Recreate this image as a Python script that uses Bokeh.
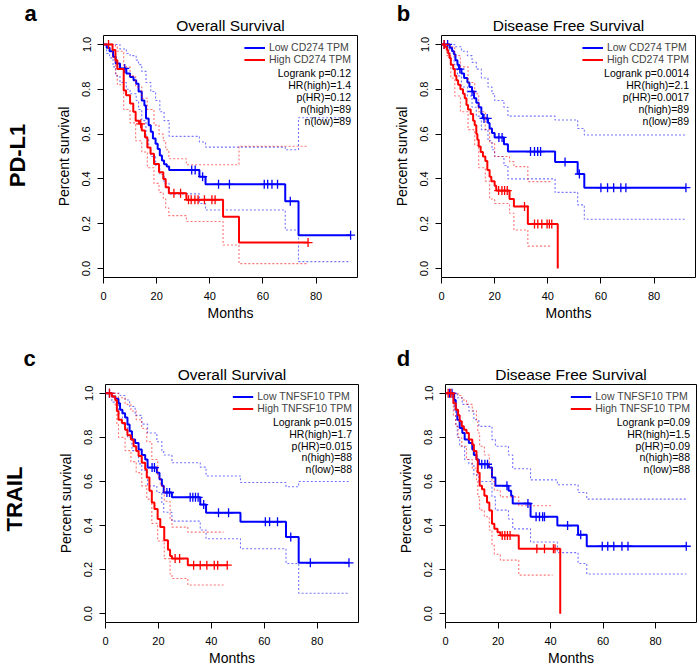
import numpy as np
from bokeh.plotting import figure
from bokeh.models import FixedTicker, PrintfTickFormatter, Label, Legend, LegendItem, Range1d
from bokeh.layouts import column, row
from bokeh.embed import file_html
from bokeh.resources import INLINE

FONT = "Liberation Sans"
BLUE = "#0000FF"
RED = "#FF0000"

X_TICKS = [0, 20, 40, 60, 80]
Y_TICKS = [0.0, 0.2, 0.4, 0.6, 0.8, 1.0]
X_MAX = 95.6
Y_MIN, Y_MAX = -0.04, 1.04

# ---------------- Panel a : PD-L1 overall survival ----------------
A_LOW_T = [0, 1.2, 2.3, 3.6, 4.6, 6.2, 8.6, 10.0, 11.3, 12.3, 13.2, 14.4, 15.4, 16.0, 17.0, 17.8, 18.6, 19.6, 20.4, 21.2, 22.0, 22.8, 23.8, 24.7, 36.1, 38.4, 68.4, 73.4, 93.0]
A_LOW_S = [1.0, 0.985, 0.97, 0.945, 0.915, 0.893, 0.87, 0.855, 0.84, 0.825, 0.79, 0.75, 0.728, 0.67, 0.64, 0.61, 0.58, 0.557, 0.534, 0.505, 0.482, 0.465, 0.455, 0.44, 0.41, 0.376, 0.30, 0.149, 0.149]
A_LOW_C = [8.0, 33.2, 34.5, 37.3, 43.3, 47.4, 60.5, 61.8, 63.4, 65.5, 70.3, 93.0]
A_LOW_UT = [0, 6.2, 8.6, 10.0, 12.3, 13.2, 14.4, 16.0, 17.8, 19.6, 21.2, 22.8, 24.7, 36.1, 38.4, 68.4, 73.4, 93.0]
A_LOW_UV = [1.0, 0.98, 0.96, 0.95, 0.93, 0.91, 0.88, 0.83, 0.79, 0.75, 0.70, 0.66, 0.59, 0.565, 0.542, 0.53, 0.673, 0.673]
A_LOW_LT = [0, 1.2, 2.3, 3.6, 4.6, 6.2, 8.6, 10.0, 12.3, 13.2, 14.4, 16.0, 17.0, 17.8, 19.6, 21.2, 22.8, 24.7, 36.1, 38.4, 68.4, 73.4, 93.0]
A_LOW_LV = [1.0, 0.96, 0.94, 0.9, 0.86, 0.83, 0.80, 0.78, 0.75, 0.71, 0.66, 0.58, 0.54, 0.5, 0.46, 0.42, 0.38, 0.333, 0.29, 0.261, 0.172, 0.031, 0.031]

A_HIGH_T = [0, 3.4, 4.5, 5.2, 7.6, 8.5, 10.0, 11.2, 12.1, 13.4, 14.4, 15.6, 16.5, 17.7, 19.0, 20.9, 22.5, 23.4, 24.6, 31.2, 45.0, 51.0, 77.0]
A_HIGH_S = [1.0, 0.975, 0.93, 0.89, 0.795, 0.773, 0.736, 0.70, 0.66, 0.646, 0.616, 0.586, 0.54, 0.512, 0.467, 0.43, 0.40, 0.363, 0.336, 0.307, 0.231, 0.116, 0.116]
A_HIGH_C = [1.9, 14.0, 26.5, 29.0, 32.0, 33.0, 34.4, 35.6, 38.0, 40.8, 42.0, 77.0]
A_HIGH_UT = [0, 4.5, 5.2, 7.6, 10.0, 12.1, 14.4, 16.5, 19.0, 20.9, 22.5, 23.4, 24.6, 31.2, 51.0, 77.0]
A_HIGH_UV = [1.0, 0.99, 0.97, 0.9, 0.86, 0.81, 0.76, 0.71, 0.64, 0.6, 0.57, 0.53, 0.49, 0.463, 0.546, 0.546]
A_HIGH_LT = [0, 3.4, 4.5, 5.2, 7.6, 10.0, 12.1, 14.4, 16.5, 19.0, 20.9, 22.5, 23.4, 24.6, 31.2, 45.0, 51.0, 77.0]
A_HIGH_LV = [1.0, 0.94, 0.87, 0.82, 0.71, 0.65, 0.57, 0.52, 0.45, 0.38, 0.34, 0.31, 0.27, 0.236, 0.21, 0.105, 0.022, 0.022]

# ---------------- Panel b : PD-L1 disease free survival ----------------
B_LOW_T = [0, 3.1, 4.0, 4.75, 5.25, 6.0, 6.6, 7.5, 8.5, 9.75, 10.5, 11.5, 12.25, 13.1, 14.0, 15.0, 15.6, 17.5, 18.1, 19.0, 20.0, 23.5, 25.0, 42.75, 51.25, 53.75, 92.0]
B_LOW_S = [1.0, 0.985, 0.97, 0.955, 0.93, 0.91, 0.89, 0.87, 0.85, 0.83, 0.81, 0.79, 0.76, 0.74, 0.72, 0.69, 0.67, 0.65, 0.625, 0.605, 0.585, 0.555, 0.522, 0.475, 0.422, 0.361, 0.361]
B_LOW_C = [1.0, 2.3, 6.9, 11.5, 16.0, 17.2, 21.6, 22.8, 33.5, 35.0, 36.2, 37.3, 46.5, 51.9, 60.0, 62.5, 64.8, 67.5, 69.4, 92.0]
B_LOW_UT = [0, 5.0, 7.5, 9.75, 11.5, 13.1, 15.0, 17.5, 19.0, 20.0, 23.5, 25.0, 42.75, 51.25, 53.75, 92.0]
B_LOW_UV = [1.0, 0.99, 0.97, 0.95, 0.92, 0.89, 0.85, 0.81, 0.78, 0.75, 0.72, 0.68, 0.663, 0.625, 0.596, 0.596]
B_LOW_LT = [0, 3.1, 4.75, 6.0, 7.5, 9.75, 11.5, 13.1, 15.0, 17.5, 19.0, 20.0, 23.5, 25.0, 42.75, 51.25, 53.75, 92.0]
B_LOW_LV = [1.0, 0.96, 0.91, 0.86, 0.81, 0.77, 0.72, 0.68, 0.62, 0.57, 0.53, 0.5, 0.46, 0.40, 0.34, 0.284, 0.22, 0.22]

B_HIGH_T = [0, 1.25, 2.0, 2.5, 3.0, 3.5, 4.4, 5.0, 5.6, 6.25, 7.1, 8.1, 8.75, 9.4, 10.0, 11.0, 11.9, 12.5, 13.1, 13.5, 14.0, 14.75, 15.6, 16.5, 17.25, 18.1, 18.75, 20.0, 20.6, 25.6, 27.25, 32.5, 43.75]
B_HIGH_S = [1.0, 0.99, 0.975, 0.96, 0.94, 0.91, 0.89, 0.86, 0.84, 0.82, 0.80, 0.78, 0.76, 0.73, 0.71, 0.69, 0.66, 0.64, 0.60, 0.575, 0.545, 0.52, 0.50, 0.48, 0.44, 0.41, 0.39, 0.37, 0.348, 0.31, 0.277, 0.199, 0.0]
B_HIGH_C = [1.0, 21.5, 22.75, 23.75, 24.75, 31.25, 35.0, 36.25, 37.75, 39.75, 40.6, 41.5]
B_HIGH_UT = [0, 3.0, 5.0, 7.1, 10.0, 12.5, 14.0, 16.5, 18.1, 20.0, 25.6, 27.25, 32.5, 41.5]
B_HIGH_UV = [1.0, 0.99, 0.95, 0.9, 0.83, 0.78, 0.7, 0.62, 0.56, 0.5, 0.477, 0.455, 0.388, 0.388]
B_HIGH_LT = [0, 2.0, 3.5, 5.0, 7.1, 10.0, 12.5, 14.0, 16.5, 18.1, 20.0, 25.6, 27.25, 32.5, 41.5]
B_HIGH_LV = [1.0, 0.95, 0.85, 0.77, 0.7, 0.62, 0.55, 0.45, 0.39, 0.31, 0.29, 0.247, 0.172, 0.10, 0.10]

# ---------------- Panel c : TRAIL overall survival ----------------
C_LOW_T = [0, 2.4, 3.7, 4.9, 5.5, 6.4, 7.4, 8.3, 9.1, 10.0, 11.2, 12.5, 13.7, 15.0, 15.9, 19.4, 20.4, 21.3, 22.0, 25.1, 35.8, 38.0, 51.0, 68.2, 73.0, 92.0]
C_LOW_S = [1.0, 0.985, 0.975, 0.955, 0.925, 0.91, 0.89, 0.858, 0.828, 0.79, 0.775, 0.745, 0.72, 0.70, 0.663, 0.64, 0.61, 0.58, 0.55, 0.528, 0.495, 0.458, 0.417, 0.348, 0.231, 0.231]
C_LOW_C = [1.5, 17.6, 18.5, 23.2, 24.2, 32.0, 33.0, 34.0, 35.0, 37.1, 42.7, 46.5, 60.4, 62.0, 65.0, 70.0, 77.4, 92.0]
C_LOW_UT = [0, 5.5, 7.4, 9.1, 11.2, 13.7, 15.9, 19.4, 21.3, 22.0, 25.1, 35.8, 38.0, 51.0, 68.2, 73.0, 92.0]
C_LOW_UV = [1.0, 0.99, 0.97, 0.94, 0.9, 0.86, 0.82, 0.78, 0.74, 0.72, 0.685, 0.665, 0.625, 0.595, 0.576, 0.6, 0.6]
C_LOW_LT = [0, 2.4, 4.9, 6.4, 8.3, 10.0, 12.5, 13.7, 15.9, 19.4, 21.3, 22.0, 25.1, 35.8, 38.0, 51.0, 68.2, 73.0, 92.0]
C_LOW_LV = [1.0, 0.96, 0.91, 0.86, 0.8, 0.74, 0.68, 0.65, 0.58, 0.55, 0.5, 0.46, 0.42, 0.38, 0.34, 0.295, 0.228, 0.093, 0.093]

C_HIGH_T = [0, 2.4, 3.7, 4.3, 4.9, 6.2, 7.4, 8.3, 9.6, 10.6, 11.6, 12.5, 13.7, 15.0, 15.6, 16.6, 17.5, 18.5, 19.7, 20.7, 22.2, 23.6, 24.4, 25.1, 31.1, 46.0]
C_HIGH_S = [1.0, 0.985, 0.97, 0.92, 0.88, 0.865, 0.835, 0.81, 0.79, 0.76, 0.738, 0.715, 0.685, 0.655, 0.618, 0.558, 0.505, 0.475, 0.43, 0.393, 0.333, 0.29, 0.262, 0.25, 0.22, 0.22]
C_HIGH_C = [1.5, 26.3, 28.0, 33.3, 35.8, 38.3, 41.1, 42.4, 46.0]
C_HIGH_UT = [0, 4.9, 7.4, 9.6, 11.6, 13.7, 15.6, 17.5, 19.7, 20.7, 22.2, 24.4, 25.1, 31.1, 44.6]
C_HIGH_UV = [1.0, 0.98, 0.95, 0.92, 0.88, 0.84, 0.78, 0.7, 0.62, 0.58, 0.51, 0.43, 0.393, 0.37, 0.37]
C_HIGH_LT = [0, 3.7, 4.3, 4.9, 7.4, 9.6, 11.6, 13.7, 15.6, 17.5, 19.7, 22.2, 24.4, 25.1, 31.1, 44.6]
C_HIGH_LV = [1.0, 0.94, 0.86, 0.8, 0.74, 0.69, 0.64, 0.58, 0.52, 0.41, 0.33, 0.25, 0.18, 0.16, 0.13, 0.13]

# ---------------- Panel d : TRAIL disease free survival ----------------
D_LOW_T = [0, 3.3, 3.9, 4.5, 5.4, 6.4, 7.3, 8.9, 10.2, 10.8, 11.8, 12.7, 16.5, 17.7, 19.0, 24.0, 25.0, 25.6, 32.4, 42.6, 50.5, 53.8, 91.7]
D_LOW_S = [1.0, 0.97, 0.925, 0.88, 0.843, 0.82, 0.79, 0.775, 0.745, 0.72, 0.70, 0.678, 0.663, 0.618, 0.58, 0.558, 0.535, 0.50, 0.44, 0.40, 0.358, 0.306, 0.306]
D_LOW_C = [1.5, 2.5, 13.8, 15.0, 16.0, 23.4, 31.4, 34.5, 35.8, 37.0, 37.7, 46.5, 51.5, 59.7, 61.8, 64.1, 67.2, 69.5, 91.7]
D_LOW_UT = [0, 4.5, 6.4, 8.9, 10.8, 12.7, 17.7, 19.0, 24.0, 25.6, 32.4, 42.6, 50.5, 53.8, 91.7]
D_LOW_UV = [1.0, 0.98, 0.95, 0.92, 0.88, 0.85, 0.79, 0.76, 0.72, 0.658, 0.607, 0.585, 0.55, 0.52, 0.52]
D_LOW_LT = [0, 3.3, 3.9, 4.5, 5.4, 7.3, 8.9, 10.8, 12.7, 17.7, 19.0, 24.0, 25.6, 32.4, 42.6, 50.5, 53.8, 91.7]
D_LOW_LV = [1.0, 0.92, 0.86, 0.8, 0.76, 0.7, 0.68, 0.63, 0.6, 0.53, 0.47, 0.43, 0.385, 0.325, 0.277, 0.228, 0.18, 0.18]

D_HIGH_T = [0, 3.0, 3.9, 4.8, 5.4, 6.2, 7.0, 8.0, 8.9, 10.2, 10.8, 11.8, 12.3, 13.0, 13.9, 14.8, 15.8, 16.7, 17.7, 18.6, 19.8, 20.9, 27.9, 43.7]
D_HIGH_S = [1.0, 0.955, 0.925, 0.9, 0.873, 0.85, 0.835, 0.82, 0.79, 0.768, 0.738, 0.70, 0.64, 0.58, 0.565, 0.535, 0.505, 0.468, 0.408, 0.385, 0.37, 0.355, 0.295, 0.0]
D_HIGH_C = [1.0, 2.0, 21.6, 22.6, 23.6, 24.6, 34.8, 37.7, 41.1, 41.7]
D_HIGH_UT = [0, 4.8, 6.2, 8.0, 10.2, 11.8, 12.3, 13.0, 14.8, 16.7, 17.7, 18.6, 20.9, 27.9, 40.8]
D_HIGH_UV = [1.0, 0.99, 0.97, 0.95, 0.92, 0.87, 0.82, 0.76, 0.72, 0.66, 0.6, 0.56, 0.53, 0.49, 0.49]
D_HIGH_LT = [0, 3.0, 3.9, 4.8, 6.2, 8.0, 10.2, 11.8, 12.3, 13.0, 14.8, 16.7, 17.7, 18.6, 20.9, 27.9, 40.8]
D_HIGH_LV = [1.0, 0.9, 0.85, 0.8, 0.76, 0.7, 0.66, 0.6, 0.53, 0.47, 0.44, 0.38, 0.31, 0.27, 0.243, 0.175, 0.175]

STATS_A = ["Logrank p=0.12", "HR(high)=1.4", "p(HR)=0.12", "n(high)=89", "n(low)=89"]
STATS_B = ["Logrank p=0.0014", "HR(high)=2.1", "p(HR)=0.0017", "n(high)=89", "n(low)=89"]
STATS_C = ["Logrank p=0.015", "HR(high)=1.7", "p(HR)=0.015", "n(high)=88", "n(low)=88"]
STATS_D = ["Logrank p=0.09", "HR(high)=1.5", "p(HR)=0.09", "n(high)=88", "n(low)=88"]
LEG_PDL1 = ["Low CD274 TPM", "High CD274 TPM"]
LEG_TRAIL = ["Low TNFSF10 TPM", "High TNFSF10 TPM"]
TITLE_OS = "Overall Survival"
TITLE_DFS = "Disease Free Survival"
ROW_LABELS = ["PD-L1", "TRAIL"]
LETTERS = ["a", "b", "c", "d"]

PAGE_W = 698


def step_value(T, S, t):
    i = int(np.searchsorted(np.asarray(T), t, side="right")) - 1
    return S[i]


def text_fig(w, h, top=0, bottom=0):
    """A figure without axes; text coordinates are pixels from its top-left corner."""
    f = figure(width=w, height=h, output_backend="svg", toolbar_location=None,
               x_range=Range1d(0, w), y_range=Range1d(h - bottom, top),
               x_axis_type=None, y_axis_type=None,
               min_border_left=0, min_border_right=0, min_border_top=top, min_border_bottom=bottom,
               background_fill_color="white", border_fill_color="white")
    f.outline_line_color = None
    return f


def add_text(f, x, y, txt, size, bold=False, angle=0.0):
    f.add_layout(Label(x=x, y=y, text=txt, angle=angle, text_align="center", text_baseline="middle",
                       text_font=FONT, text_font_size=size,
                       text_font_style="bold" if bold else "normal", text_color="black"))


def draw_group(p, T, S, C, UT, UV, LT, LV, color):
    p.step(UT, UV, mode="after", line_color=color, line_alpha=0.55, line_width=1.1, line_dash="2 2")
    p.step(LT, LV, mode="after", line_color=color, line_alpha=0.55, line_width=1.1, line_dash="2 2")
    r = p.step(T, S, mode="after", line_color=color, line_width=2)
    cy = [step_value(T, S, t) for t in C]
    p.scatter(C, cy, marker="cross", size=9, line_color=color, line_width=1.3)
    return r


def make_panel(W, H, L, FW, T, FH, leg, stats, low, high):
    p = figure(width=W, height=H, output_backend="svg", toolbar_location=None,
               x_range=Range1d(0, X_MAX), y_range=Range1d(Y_MIN, Y_MAX),
               min_border_left=L, min_border_right=W - L - FW,
               min_border_top=T, min_border_bottom=H - T - FH,
               background_fill_color="white", border_fill_color="white")
    p.xgrid.visible = False
    p.ygrid.visible = False
    p.outline_line_color = "black"
    p.outline_line_width = 1

    def dx(px):
        return (px - L) / FW * X_MAX

    def dy(py):
        return Y_MAX - (py - T) / FH * (Y_MAX - Y_MIN)

    p.xaxis.ticker = FixedTicker(ticks=X_TICKS)
    p.yaxis.ticker = FixedTicker(ticks=Y_TICKS)
    p.yaxis.formatter = PrintfTickFormatter(format="%.1f")
    for ax in (p.xaxis[0], p.yaxis[0]):
        ax.axis_line_color = None
        ax.major_tick_line_color = "black"
        ax.major_tick_out = 6
        ax.major_tick_in = 0
        ax.minor_tick_line_color = None
        ax.major_label_text_font = FONT
        ax.major_label_text_font_size = "11px"
        ax.major_label_text_color = "black"
        ax.axis_label_text_font = FONT
        ax.axis_label_text_font_size = "14px"
        ax.axis_label_text_font_style = "normal"
        ax.axis_label_text_color = "black"
    p.xaxis.axis_label = "Months"
    p.yaxis.axis_label = "Percent survival"
    p.yaxis.major_label_orientation = "vertical"
    p.xaxis.major_label_standoff = 8
    p.yaxis.major_label_standoff = 7
    p.xaxis.axis_label_standoff = 2
    p.yaxis.axis_label_standoff = 8

    r_low = draw_group(p, *low, BLUE)
    r_high = draw_group(p, *high, RED)

    legend = Legend(items=[LegendItem(label=leg[0], renderers=[r_low]),
                           LegendItem(label=leg[1], renderers=[r_high])],
                    location="top_right", margin=6, padding=0, spacing=0,
                    glyph_width=21, glyph_height=11, label_height=11, label_standoff=4,
                    label_text_font=FONT, label_text_font_size="10.5px",
                    border_line_color=None, background_fill_alpha=0)
    p.add_layout(legend)

    for i, txt in enumerate(stats):
        p.add_layout(Label(x=dx(L + FW - 6.5), y=dy(T + 37.3 + 12.0 * i), text=txt,
                           text_align="right", text_baseline="middle",
                           text_font=FONT, text_font_size="10.5px", text_color="black"))
    return p


# ----- Row 1: header (34) + panels (296) -----
head1 = text_fig(PAGE_W, 34)
add_text(head1, 30, 13, LETTERS[0], "22px", bold=True)
add_text(head1, 38 + 65 + 127, 25, TITLE_OS, "15.5px")
add_text(head1, 403, 13, LETTERS[1], "22px", bold=True)
add_text(head1, 362 + 79 + 127, 25, TITLE_DFS, "15.5px")

strip1 = text_fig(38, 296, top=1, bottom=53)
add_text(strip1, 17, 121, ROW_LABELS[0], "22px", bold=True, angle=np.pi / 2)

pa = make_panel(324, 296, 65, 254, 1, 242, LEG_PDL1, STATS_A,
                (A_LOW_T, A_LOW_S, A_LOW_C, A_LOW_UT, A_LOW_UV, A_LOW_LT, A_LOW_LV),
                (A_HIGH_T, A_HIGH_S, A_HIGH_C, A_HIGH_UT, A_HIGH_UV, A_HIGH_LT, A_HIGH_LV))
pb = make_panel(336, 296, 79, 254, 1, 242, LEG_PDL1, STATS_B,
                (B_LOW_T, B_LOW_S, B_LOW_C, B_LOW_UT, B_LOW_UV, B_LOW_LT, B_LOW_LV),
                (B_HIGH_T, B_HIGH_S, B_HIGH_C, B_HIGH_UT, B_HIGH_UV, B_HIGH_LT, B_HIGH_LV))

# ----- Row 2: header (53) + panels (285) -----
head2 = text_fig(PAGE_W, 53)
add_text(head2, 29, 28, LETTERS[2], "22px", bold=True)
add_text(head2, 38 + 67 + 126.5, 44, TITLE_OS, "15.5px")
add_text(head2, 403, 28, LETTERS[3], "22px", bold=True)
add_text(head2, 362 + 83 + 125.5, 44, TITLE_DFS, "15.5px")

strip2 = text_fig(38, 285, top=1, bottom=45)
add_text(strip2, 14, 116, ROW_LABELS[1], "22px", bold=True, angle=np.pi / 2)

pc = make_panel(324, 285, 67, 253, 1, 239, LEG_TRAIL, STATS_C,
                (C_LOW_T, C_LOW_S, C_LOW_C, C_LOW_UT, C_LOW_UV, C_LOW_LT, C_LOW_LV),
                (C_HIGH_T, C_HIGH_S, C_HIGH_C, C_HIGH_UT, C_HIGH_UV, C_HIGH_LT, C_HIGH_LV))
pd_ = make_panel(336, 285, 83, 251, 1, 239, LEG_TRAIL, STATS_D,
                 (D_LOW_T, D_LOW_S, D_LOW_C, D_LOW_UT, D_LOW_UV, D_LOW_LT, D_LOW_LV),
                 (D_HIGH_T, D_HIGH_S, D_HIGH_C, D_HIGH_UT, D_HIGH_UV, D_HIGH_LT, D_HIGH_LV))

layout = column(
    head1,
    row(strip1, pa, pb),
    head2,
    row(strip2, pc, pd_),
)
open("out.html", "w").write(file_html(layout, INLINE))
